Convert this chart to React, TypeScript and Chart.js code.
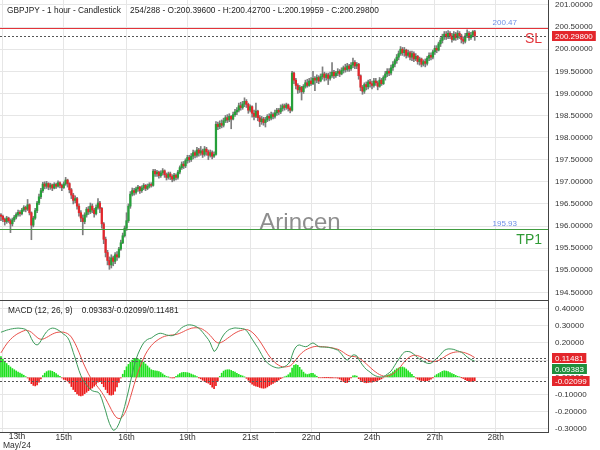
import React, { useEffect, useRef } from 'react';
import { Chart, registerables } from 'chart.js';

Chart.register(...registerables);

// ---------------- data ----------------
const SYMBOL = 'GBPJPY';
const TIMEFRAME = '1 hour';
const CHART_KIND = 'Candlestick';
const BAR_POS = '254/288';
const WATERMARK = 'Arincen';
const TOTAL_SLOTS = 288;
const FIRST_OPEN = 196.25;

const closes = [
  196.22, 196.15, 196.10, 196.18, 196.12, 196.05, 196.14, 196.20, 196.26, 196.31,
  196.28, 196.36, 196.42, 196.38, 196.48, 196.30, 196.02, 196.18, 196.35, 196.52,
  196.66, 196.80, 196.95, 196.90, 196.96, 196.88, 196.93, 196.86, 196.94, 196.90,
  196.98, 196.92, 196.87, 196.95, 197.04, 196.96, 196.82, 196.70, 196.58, 196.62,
  196.45, 196.30, 196.18, 196.10, 196.25, 196.38, 196.32, 196.45, 196.36, 196.28,
  196.42, 196.52, 196.40, 196.05, 195.70, 195.40, 195.22, 195.12, 195.28, 195.20,
  195.35, 195.30, 195.48, 195.62, 195.78, 195.95, 196.12, 196.45, 196.72, 196.80,
  196.76, 196.84, 196.88, 196.80, 196.86, 196.92, 196.85, 196.90, 196.94, 196.92,
  197.24, 197.18, 197.22, 197.14, 197.20, 197.25, 197.16, 197.10, 197.18, 197.12,
  197.06, 197.15, 197.10, 197.22, 197.32, 197.40, 197.36, 197.48, 197.55, 197.50,
  197.58, 197.66, 197.60, 197.72, 197.65, 197.70, 197.62, 197.74, 197.68, 197.60,
  197.66, 197.58, 197.62, 198.30, 198.25, 198.32, 198.28, 198.38, 198.45, 198.40,
  198.48, 198.42, 198.52, 198.58, 198.62, 198.72, 198.68, 198.76, 198.82, 198.75,
  198.62, 198.70, 198.55, 198.48, 198.60, 198.45, 198.36, 198.42, 198.34, 198.40,
  198.48, 198.44, 198.52, 198.48, 198.56, 198.62, 198.58, 198.66, 198.72, 198.68,
  198.74, 198.66, 198.62, 199.46, 199.30, 199.18, 199.08, 199.14, 199.04, 199.16,
  199.24, 199.18, 199.28, 199.22, 199.34, 199.30, 199.36, 199.28, 199.38, 199.44,
  199.36, 199.42, 199.34, 199.40, 199.48, 199.40, 199.46, 199.50, 199.44, 199.52,
  199.58, 199.54, 199.62, 199.56, 199.64, 199.70, 199.62, 199.66, 199.40, 199.14,
  199.05, 199.20, 199.15, 199.26, 199.22, 199.18, 199.28, 199.24, 199.16, 199.30,
  199.22, 199.36, 199.44, 199.50, 199.46, 199.58, 199.66, 199.74, 199.82, 199.90,
  200.00, 199.92, 199.98, 199.86, 199.92, 199.82, 199.90, 199.78, 199.84, 199.72,
  199.78, 199.66, 199.72, 199.68, 199.80, 199.86, 199.82, 199.94, 200.02, 199.98,
  200.12, 200.20, 200.28, 200.34, 200.28, 200.36, 200.30, 200.22, 200.34, 200.26,
  200.36, 200.30, 200.22, 200.18, 200.30, 200.36, 200.26, 200.32, 200.396, 200.298,
];

const highs = [
  196.28, 196.25, 196.18, 196.22, 196.20, 196.16, 196.18, 196.24, 196.30, 196.36,
  196.35, 196.40, 196.46, 196.45, 196.60, 196.50, 196.32, 196.22, 196.40, 196.56,
  196.72, 196.85, 196.99, 197.00, 197.01, 196.98, 196.97, 196.95, 196.98, 196.97,
  197.02, 197.00, 196.95, 197.00, 197.10, 197.06, 196.98, 196.85, 196.74, 196.68,
  196.65, 196.50, 196.35, 196.25, 196.30, 196.42, 196.44, 196.52, 196.50, 196.40,
  196.48, 196.62, 196.56, 196.42, 196.08, 195.75, 195.45, 195.30, 195.35, 195.32,
  195.40, 195.42, 195.52, 195.68, 195.84, 196.00, 196.30, 196.50, 196.78, 196.86,
  196.85, 196.88, 196.92, 196.90, 196.91, 196.96, 196.94, 196.95, 196.98, 196.98,
  197.28, 197.28, 197.26, 197.24, 197.25, 197.30, 197.27, 197.20, 197.22, 197.22,
  197.16, 197.19, 197.18, 197.26, 197.36, 197.45, 197.46, 197.52, 197.60, 197.60,
  197.64, 197.72, 197.70, 197.78, 197.76, 197.80, 197.74, 197.80, 197.78, 197.72,
  197.72, 197.70, 197.68, 198.36, 198.35, 198.38, 198.40, 198.44, 198.50, 198.52,
  198.54, 198.50, 198.58, 198.64, 198.68, 198.78, 198.80, 198.82, 198.90, 198.86,
  198.78, 198.74, 198.72, 198.62, 198.78, 198.62, 198.50, 198.48, 198.46, 198.46,
  198.52, 198.54, 198.58, 198.56, 198.62, 198.66, 198.66, 198.74, 198.76, 198.76,
  198.78, 198.76, 198.70, 199.50, 199.48, 199.34, 199.22, 199.18, 199.16, 199.20,
  199.30, 199.32, 199.34, 199.36, 199.50, 199.38, 199.42, 199.40, 199.44, 199.60,
  199.48, 199.46, 199.46, 199.48, 199.70, 199.52, 199.50, 199.56, 199.54, 199.58,
  199.62, 199.66, 199.68, 199.66, 199.70, 199.80, 199.74, 199.70, 199.68, 199.42,
  199.18, 199.24, 199.26, 199.30, 199.32, 199.28, 199.34, 199.34, 199.28, 199.36,
  199.34, 199.40, 199.50, 199.56, 199.56, 199.64, 199.72, 199.78, 199.88, 199.96,
  200.06, 200.04, 200.04, 200.00, 199.98, 199.96, 199.96, 199.94, 199.90, 199.86,
  199.82, 199.80, 199.76, 199.78, 199.84, 199.92, 199.92, 199.98, 200.08, 200.08,
  200.16, 200.26, 200.34, 200.40, 200.40, 200.42, 200.40, 200.36, 200.40, 200.38,
  200.42, 200.40, 200.34, 200.28, 200.36, 200.44, 200.40, 200.38, 200.42, 200.427,
];

const lows = [
  196.12, 196.10, 196.02, 196.06, 196.08, 195.85, 196.00, 196.10, 196.16, 196.22,
  196.22, 196.25, 196.33, 196.32, 196.35, 196.25, 195.69, 195.98, 196.15, 196.30,
  196.48, 196.62, 196.76, 196.84, 196.85, 196.82, 196.83, 196.80, 196.84, 196.85,
  196.88, 196.86, 196.80, 196.85, 196.92, 196.88, 196.75, 196.62, 196.50, 196.52,
  196.38, 196.22, 196.10, 195.80, 196.05, 196.20, 196.26, 196.28, 196.30, 196.20,
  196.25, 196.38, 196.30, 195.95, 195.60, 195.30, 195.12, 195.02, 195.05, 195.10,
  195.15, 195.22, 195.28, 195.45, 195.60, 195.75, 195.90, 196.08, 196.40, 196.68,
  196.70, 196.72, 196.78, 196.74, 196.76, 196.82, 196.80, 196.82, 196.86, 196.88,
  196.90, 197.12, 197.12, 197.08, 197.10, 197.15, 197.10, 197.04, 197.06, 197.05,
  197.00, 197.02, 197.04, 197.06, 197.18, 197.28, 197.30, 197.32, 197.42, 197.44,
  197.46, 197.52, 197.54, 197.56, 197.58, 197.60, 197.55, 197.58, 197.60, 197.50,
  197.56, 197.52, 197.55, 197.60, 198.18, 198.20, 198.22, 198.24, 198.34, 198.34,
  198.36, 198.20, 198.40, 198.48, 198.52, 198.58, 198.62, 198.64, 198.70, 198.68,
  198.55, 198.58, 198.46, 198.40, 198.45, 198.38, 198.25, 198.30, 198.28, 198.24,
  198.36, 198.38, 198.40, 198.42, 198.44, 198.50, 198.52, 198.54, 198.60, 198.62,
  198.64, 198.60, 198.56, 198.60, 199.22, 199.10, 199.00, 199.02, 198.85, 199.00,
  199.12, 199.14, 199.16, 199.18, 199.20, 199.06, 199.24, 199.22, 199.26, 199.32,
  199.28, 199.30, 199.20, 199.30, 199.36, 199.34, 199.36, 199.40, 199.38, 199.42,
  199.46, 199.48, 199.50, 199.50, 199.52, 199.58, 199.56, 199.56, 199.32, 199.06,
  198.98, 199.00, 199.08, 199.10, 199.14, 199.10, 199.14, 199.18, 199.08, 199.14,
  199.18, 199.20, 199.30, 199.38, 199.40, 199.42, 199.52, 199.60, 199.68, 199.76,
  199.86, 199.86, 199.84, 199.80, 199.82, 199.76, 199.74, 199.72, 199.74, 199.66,
  199.64, 199.60, 199.62, 199.60, 199.64, 199.74, 199.76, 199.78, 199.88, 199.92,
  199.96, 200.06, 200.14, 200.22, 200.22, 200.24, 200.24, 200.16, 200.20, 200.20,
  200.22, 200.24, 200.14, 200.12, 200.14, 200.26, 200.20, 200.22, 200.28, 200.19959,
];

const macdLine = [
  0.262, 0.266, 0.270, 0.274, 0.277, 0.280, 0.282, 0.284, 0.285, 0.286,
  0.285, 0.284, 0.282, 0.278, 0.268, 0.250, 0.225, 0.205, 0.192, 0.188,
  0.195, 0.212, 0.232, 0.250, 0.265, 0.276, 0.283, 0.286, 0.285, 0.281,
  0.275, 0.268, 0.260, 0.250, 0.243, 0.232, 0.212, 0.180, 0.145, 0.112,
  0.075, 0.040, 0.010, -0.015, -0.030, -0.045, -0.058, -0.070, -0.078, -0.082,
  -0.084, -0.086, -0.098, -0.125, -0.160, -0.195, -0.235, -0.268, -0.292, -0.308,
  -0.305, -0.292, -0.270, -0.242, -0.210, -0.170, -0.125, -0.080, -0.030, 0.020,
  0.068, 0.105, 0.135, 0.160, 0.182, 0.200, 0.212, 0.220, 0.225, 0.228,
  0.236, 0.244, 0.250, 0.255, 0.256, 0.254, 0.250, 0.246, 0.244, 0.242,
  0.242, 0.246, 0.254, 0.266, 0.278, 0.288, 0.295, 0.300, 0.304, 0.305,
  0.304, 0.302, 0.298, 0.292, 0.285, 0.275, 0.262, 0.248, 0.234, 0.220,
  0.200, 0.172, 0.150, 0.158, 0.178, 0.205, 0.228, 0.246, 0.260, 0.270,
  0.278, 0.282, 0.285, 0.287, 0.286, 0.285, 0.284, 0.283, 0.280, 0.272,
  0.258, 0.240, 0.222, 0.205, 0.188, 0.172, 0.152, 0.132, 0.112, 0.096,
  0.084, 0.075, 0.068, 0.062, 0.058, 0.055, 0.054, 0.056, 0.058, 0.062,
  0.068, 0.078, 0.092, 0.128, 0.158, 0.176, 0.186, 0.188, 0.184, 0.180,
  0.178, 0.180, 0.188, 0.196, 0.200, 0.194, 0.186, 0.178, 0.176, 0.176,
  0.176, 0.175, 0.174, 0.172, 0.170, 0.166, 0.162, 0.158, 0.148, 0.135,
  0.120, 0.106, 0.100, 0.108, 0.120, 0.130, 0.130, 0.125, 0.105, 0.088,
  0.072, 0.058, 0.046, 0.038, 0.030, 0.020, 0.013, 0.008, 0.004, 0.002,
  0.002, 0.004, 0.010, 0.018, 0.026, 0.036, 0.052, 0.070, 0.088, 0.104,
  0.120, 0.136, 0.146, 0.150, 0.150, 0.148, 0.142, 0.134, 0.124, 0.115,
  0.106, 0.098, 0.092, 0.086, 0.082, 0.080, 0.082, 0.090, 0.100, 0.110,
  0.120, 0.132, 0.146, 0.156, 0.162, 0.165, 0.165, 0.164, 0.162, 0.158,
  0.154, 0.150, 0.146, 0.138, 0.128, 0.118, 0.110, 0.104, 0.098, 0.093828,
];

const signalLine = [
  0.142, 0.160, 0.178, 0.194, 0.208, 0.220, 0.231, 0.240, 0.248, 0.255,
  0.260, 0.266, 0.270, 0.274, 0.272, 0.268, 0.262, 0.252, 0.242, 0.232,
  0.224, 0.221, 0.222, 0.226, 0.232, 0.238, 0.245, 0.251, 0.256, 0.260,
  0.262, 0.263, 0.263, 0.262, 0.259, 0.254, 0.246, 0.234, 0.216, 0.196,
  0.172, 0.146, 0.118, 0.090, 0.065, 0.042, 0.020, 0.000, -0.016, -0.030,
  -0.044, -0.058, -0.072, -0.088, -0.105, -0.124, -0.145, -0.166, -0.188, -0.208,
  -0.225, -0.236, -0.240, -0.238, -0.228, -0.210, -0.186, -0.155, -0.118, -0.080,
  -0.042, -0.006, 0.028, 0.058, 0.086, 0.112, 0.135, 0.154, 0.170, 0.184,
  0.196, 0.206, 0.214, 0.222, 0.228, 0.234, 0.238, 0.241, 0.243, 0.245,
  0.246, 0.247, 0.249, 0.252, 0.256, 0.261, 0.266, 0.272, 0.277, 0.281,
  0.285, 0.287, 0.288, 0.288, 0.287, 0.284, 0.279, 0.272, 0.264, 0.254,
  0.243, 0.230, 0.216, 0.206, 0.200, 0.200, 0.204, 0.210, 0.218, 0.226,
  0.234, 0.242, 0.250, 0.257, 0.263, 0.268, 0.272, 0.275, 0.278, 0.278,
  0.275, 0.270, 0.262, 0.252, 0.240, 0.226, 0.211, 0.194, 0.176, 0.158,
  0.140, 0.124, 0.110, 0.097, 0.086, 0.077, 0.070, 0.064, 0.061, 0.060,
  0.061, 0.063, 0.066, 0.075, 0.088, 0.102, 0.116, 0.130, 0.141, 0.150,
  0.158, 0.164, 0.169, 0.173, 0.177, 0.179, 0.180, 0.180, 0.179, 0.178,
  0.177, 0.176, 0.175, 0.173, 0.171, 0.169, 0.166, 0.163, 0.158, 0.152,
  0.145, 0.137, 0.130, 0.125, 0.122, 0.121, 0.120, 0.118, 0.113, 0.106,
  0.097, 0.088, 0.078, 0.068, 0.058, 0.048, 0.038, 0.030, 0.022, 0.016,
  0.011, 0.007, 0.006, 0.007, 0.010, 0.014, 0.020, 0.028, 0.038, 0.050,
  0.062, 0.076, 0.090, 0.102, 0.112, 0.120, 0.125, 0.128, 0.128, 0.126,
  0.122, 0.117, 0.112, 0.107, 0.102, 0.097, 0.093, 0.091, 0.092, 0.094,
  0.098, 0.104, 0.111, 0.118, 0.126, 0.132, 0.138, 0.142, 0.145, 0.147,
  0.148, 0.148, 0.147, 0.145, 0.142, 0.138, 0.133, 0.128, 0.121, 0.114814,
];

const SL_LEVEL = 200.47;
const TP_LEVEL = 195.93;

const xTickIdx = [1, 33, 66, 98, 131, 163, 195, 228, 260];
const xTickLabels = ['13th', '15th', '16th', '19th', '21st', '22nd', '24th', '27th', '28th'];
const FIRST_SUB_LABEL = 'May/24';

const priceTicks = [194.5, 195.0, 195.5, 196.0, 196.5, 197.0, 197.5, 198.0, 198.5, 199.0, 199.5, 200.0, 200.5, 201.0];
const macdTicks = [-0.3, -0.2, -0.1, 0.0, 0.1, 0.2, 0.3, 0.4];

const PRICE_MIN = 194.326;
const PRICE_MAX = 201.113;
const MACD_MIN = -0.318;
const MACD_MAX = 0.4494;

// ---------------- styles ----------------
const FONT = "'Liberation Sans', Arial, Helvetica, sans-serif";
const UP = '#26a03a';
const DOWN = '#e4262c';
const WICK = '#7d7d7d';
const GRID = '#e6e6e6';
const AXIS = '#444444';
const TEXT = '#333333';

const opens = closes.map((c, i) => (i === 0 ? FIRST_OPEN : closes[i - 1]));
const histogram = macdLine.map((m, i) => m - signalLine[i]);
const slotLabels = Array.from({ length: TOTAL_SLOTS }, (_, i) => String(i));
const LAST = closes.length - 1;

const useTicks = (values: number[]) => (scale: any) => {
  scale.ticks = values.map((v) => ({ value: v }));
};
const keepXTicks = (scale: any) => {
  scale.ticks = scale.ticks.filter((t: any) => xTickIdx.includes(t.value));
};
const noPad = (s: any) => {
  s.paddingTop = 0;
  s.paddingBottom = 0;
  s.paddingLeft = 0;
  s.paddingRight = 0;
};

function hline(ctx: CanvasRenderingContext2D, x0: number, x1: number, y: number, color: string, dash: number[]) {
  const yy = Math.round(y) + 0.5;
  ctx.save();
  ctx.strokeStyle = color;
  ctx.lineWidth = 1;
  ctx.setLineDash(dash);
  ctx.beginPath();
  ctx.moveTo(x0, yy);
  ctx.lineTo(x1, yy);
  ctx.stroke();
  ctx.restore();
}

function valueBox(ctx: CanvasRenderingContext2D, x: number, yc: number, text: string, bg: string) {
  ctx.save();
  ctx.font = `8px ${FONT}`;
  const w = ctx.measureText(text).width + 6;
  ctx.fillStyle = bg;
  ctx.fillRect(x, Math.round(yc - 5), w, 10);
  ctx.fillStyle = '#ffffff';
  ctx.textAlign = 'left';
  ctx.textBaseline = 'middle';
  ctx.fillText(text, x + 3, Math.round(yc) + 0.5);
  ctx.restore();
}

const mainPlugin = {
  id: 'mainOverlay',
  beforeDatasetsDraw(chart: any) {
    const { ctx } = chart;
    ctx.save();
    ctx.font = `24px ${FONT}`;
    ctx.fillStyle = '#8e8e8e';
    ctx.textAlign = 'center';
    ctx.textBaseline = 'middle';
    ctx.fillText(WATERMARK, chart.width / 2, 223);
    ctx.restore();
  },
  afterDraw(chart: any) {
    const { ctx, chartArea: a } = chart;
    const y = chart.scales.y;
    const ySL = y.getPixelForValue(SL_LEVEL);
    const yTP = y.getPixelForValue(TP_LEVEL);
    const yC = y.getPixelForValue(closes[LAST]);

    hline(ctx, a.left, a.right, ySL, '#e3343a', []);
    hline(ctx, a.left, a.right, yTP, '#3f9b3f', []);
    hline(ctx, a.left, a.right, yC, '#555555', [2, 2]);

    ctx.save();
    ctx.textAlign = 'right';
    ctx.textBaseline = 'middle';
    ctx.font = `8px ${FONT}`;
    ctx.fillStyle = '#6d8fe6';
    ctx.fillText(SL_LEVEL.toFixed(2), a.right - 31, ySL - 5.5);
    ctx.fillText(TP_LEVEL.toFixed(2), a.right - 31, yTP - 5.5);
    ctx.font = `14px ${FONT}`;
    ctx.fillStyle = '#e3343a';
    ctx.fillText('SL', a.right - 6, ySL + 11);
    ctx.fillStyle = '#2f9a35';
    ctx.fillText('TP1', a.right - 6, yTP + 11);

    ctx.textAlign = 'left';
    ctx.font = `8.3px ${FONT}`;
    ctx.fillStyle = '#222222';
    const header =
      `${SYMBOL} - ${TIMEFRAME} - ${CHART_KIND}    ${BAR_POS} - O:${opens[LAST].toFixed(5)} - H:${highs[LAST].toFixed(5)} - L:${lows[LAST].toFixed(5)} - C:${closes[LAST].toFixed(5)}`;
    ctx.fillText(header, 7, 10.5);
    ctx.restore();

    valueBox(ctx, a.right + 4, yC, closes[LAST].toFixed(5), '#e3262b');
  },
};

const macdPlugin = {
  id: 'macdOverlay',
  afterDraw(chart: any) {
    const { ctx, chartArea: a } = chart;
    const y = chart.scales.y;
    const x = chart.scales.x;
    hline(ctx, 0, a.right, a.top, AXIS, []);

    const m = macdLine[LAST];
    const s = signalLine[LAST];
    const h = histogram[LAST];
    hline(ctx, a.left, a.right, y.getPixelForValue(s), '#555555', [2, 2]);
    hline(ctx, a.left, a.right, y.getPixelForValue(m), '#555555', [2, 2]);
    hline(ctx, a.left, a.right, y.getPixelForValue(h), '#555555', [2, 2]);

    const boxes = [
      { v: s, bg: '#e3262b' },
      { v: m, bg: '#1f8f3c' },
      { v: h, bg: '#e3262b' },
    ].sort((p, q) => q.v - p.v);
    let prev = -Infinity;
    boxes.forEach((b) => {
      let yc = y.getPixelForValue(b.v);
      if (yc < prev + 11.5) yc = prev + 11.5;
      prev = yc;
      valueBox(ctx, a.right + 4, yc, b.v.toFixed(5), b.bg);
    });

    ctx.save();
    ctx.font = `8.3px ${FONT}`;
    ctx.fillStyle = '#222222';
    ctx.textAlign = 'left';
    ctx.textBaseline = 'middle';
    ctx.fillText(`MACD (12, 26, 9)    ${m.toFixed(5)}/${h.toFixed(5)}/${s.toFixed(5)}`, 8, a.top + 11);

    ctx.font = `8.5px ${FONT}`;
    ctx.fillStyle = TEXT;
    ctx.textAlign = 'center';
    const x0 = x.getPixelForValue(xTickIdx[0]);
    const w = Math.max(ctx.measureText(xTickLabels[0]).width, ctx.measureText(FIRST_SUB_LABEL).width);
    const cx = Math.max(x0, 3 + w / 2);
    ctx.fillText(xTickLabels[0], cx, a.bottom + 4.5);
    ctx.fillText(FIRST_SUB_LABEL, cx, a.bottom + 14);
    ctx.restore();
  },
};

function mainConfig(): any {
  return {
    type: 'bar',
    data: {
      labels: slotLabels,
      datasets: [
        {
          label: 'wick',
          data: closes.map((_, i) => [lows[i], highs[i]]),
          backgroundColor: WICK,
          barThickness: 1,
          grouped: false,
          order: 2,
        },
        {
          label: 'body',
          data: closes.map((c, i) => [opens[i], c]),
          backgroundColor: closes.map((c, i) => (c >= opens[i] ? UP : DOWN)),
          barThickness: 1.6,
          grouped: false,
          order: 1,
        },
      ],
    },
    options: {
      animation: false,
      responsive: false,
      maintainAspectRatio: false,
      layout: { padding: 0, autoPadding: false },
      plugins: { legend: { display: false }, tooltip: { enabled: false } },
      scales: {
        x: {
          offset: true,
          grid: { offset: false, color: GRID, drawTicks: false },
          border: { display: false },
          ticks: { display: false, autoSkip: false },
          afterBuildTicks: keepXTicks,
          afterFit: (s: any) => { s.height = 0; noPad(s); },
        },
        y: {
          position: 'right',
          min: PRICE_MIN,
          max: PRICE_MAX,
          grid: { color: GRID, drawTicks: false },
          border: { display: true, color: AXIS },
          ticks: {
            padding: 7,
            color: TEXT,
            font: { family: FONT, size: 8 },
            callback: (v: any) => Number(v).toFixed(5),
          },
          afterBuildTicks: useTicks(priceTicks),
          afterFit: (s: any) => { s.width = 52; noPad(s); },
        },
      },
    },
    plugins: [mainPlugin],
  };
}

function macdConfig(): any {
  return {
    type: 'bar',
    data: {
      labels: slotLabels,
      datasets: [
        {
          type: 'line',
          label: 'MACD',
          data: macdLine,
          borderColor: '#3c9b5a',
          borderWidth: 1,
          pointRadius: 0,
          tension: 0,
          order: 1,
        },
        {
          type: 'line',
          label: 'Signal',
          data: signalLine,
          borderColor: '#e8504a',
          borderWidth: 1,
          pointRadius: 0,
          tension: 0,
          order: 2,
        },
        {
          type: 'bar',
          label: 'Histogram',
          data: histogram,
          backgroundColor: histogram.map((v) => (v >= 0 ? '#1fe01f' : '#ec1b1b')),
          barThickness: 1,
          grouped: false,
          order: 3,
        },
      ],
    },
    options: {
      animation: false,
      responsive: false,
      maintainAspectRatio: false,
      layout: { padding: 0, autoPadding: false },
      plugins: { legend: { display: false }, tooltip: { enabled: false } },
      scales: {
        x: {
          offset: true,
          grid: { offset: false, color: GRID, drawTicks: false },
          border: { display: true, color: AXIS },
          ticks: {
            autoSkip: false,
            maxRotation: 0,
            padding: 1,
            color: TEXT,
            font: { family: FONT, size: 8.5 },
            callback: (v: any) => {
              const k = xTickIdx.indexOf(Number(v));
              return k <= 0 ? '' : xTickLabels[k];
            },
          },
          afterBuildTicks: keepXTicks,
          afterFit: (s: any) => { s.height = 18; noPad(s); },
        },
        y: {
          position: 'right',
          min: MACD_MIN,
          max: MACD_MAX,
          grid: { color: GRID, drawTicks: false },
          border: { display: true, color: AXIS },
          ticks: {
            padding: 7,
            color: TEXT,
            font: { family: FONT, size: 8 },
            callback: (v: any) => Number(v).toFixed(5),
          },
          afterBuildTicks: useTicks(macdTicks),
          afterFit: (s: any) => { s.width = 52; noPad(s); },
        },
      },
    },
    plugins: [macdPlugin],
  };
}

export default function App() {
  const topRef = useRef<HTMLCanvasElement>(null);
  const botRef = useRef<HTMLCanvasElement>(null);

  useEffect(() => {
    const c1 = new Chart(topRef.current as HTMLCanvasElement, mainConfig());
    const c2 = new Chart(botRef.current as HTMLCanvasElement, macdConfig());
    return () => {
      c1.destroy();
      c2.destroy();
    };
  }, []);

  return (
    <div style={{ position: 'absolute', left: 0, top: 0, width: 600, height: 450, background: '#ffffff' }}>
      <canvas ref={topRef} width={600} height={300} style={{ position: 'absolute', left: 0, top: 0 }} />
      <canvas ref={botRef} width={600} height={150} style={{ position: 'absolute', left: 0, top: 300 }} />
    </div>
  );
}
